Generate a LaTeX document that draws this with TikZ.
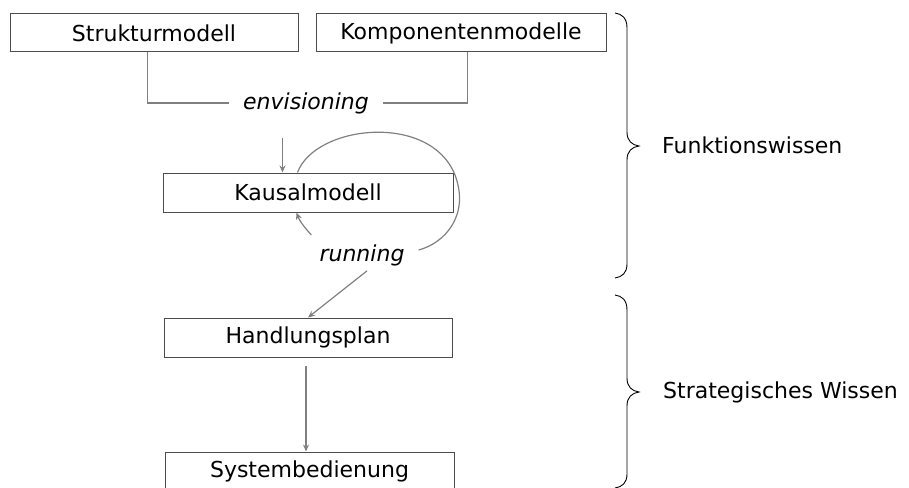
\documentclass[tikz,border=0pt]{standalone}
\usepackage{fontspec}
\setmainfont{DejaVu Sans}
\usetikzlibrary{arrows.meta,calc}
\begin{document}
\begin{tikzpicture}[x=1pt,y=-1pt,
  box/.style={draw=black!70,line width=1pt,minimum width=288pt,minimum height=38pt,
    inner sep=0pt,font=\fontsize{22}{26}\selectfont},
  lbl/.style={font=\fontsize{22}{26}\selectfont\itshape,inner sep=0pt},
  side/.style={font=\fontsize{22}{26}\selectfont,inner sep=0pt,anchor=west},
  conn/.style={draw=black!50,line width=1.2pt},
  arr/.style={conn,-{Stealth[length=7pt,width=6pt]}},
  bracepath/.style={draw=black,line width=0.9pt}]
\useasboundingbox (0,0) rectangle (909,487);

% model boxes
\node[box] (struktur) at (154,33) {Strukturmodell};
\node[box,minimum width=290pt] (komp) at (461,33) {Komponentenmodelle};
\node[box,minimum width=290pt,minimum height=39pt] (kausal) at (308,192.5) {Kausalmodell};
\node[box,minimum height=39pt] (hand) at (308,337.5) {Handlungsplan};
\node[box,minimum width=289pt,minimum height=39pt] (system) at (309.5,471.5) {Systembedienung};

% process labels
\node[lbl] (env) at (306,103) {envisioning};
\node[lbl] (run) at (362,255) {running};

% envisioning: both models feed the causal model
\draw[conn] ($(struktur.south west)+(138,0)$) |- ($(env.west)+(-14,0)$);
\draw[conn] ($(komp.south west)+(152,0)$) |- ($(env.east)+(14,0)$);
\draw[arr] ($(kausal.north west)+(120,-35)$) -- ($(kausal.north west)+(120,0)$);

% running: loop over the causal model
\coordinate (loopA) at ($(kausal.north west)+(135,0)$);
\coordinate (loopB) at ($(run.east)+(14,-5)$);
\draw[conn] (loopA) .. controls (315,125) and (430,112) .. (455,175)
  .. controls (470,215) and (445,243) .. (loopB);
\draw[arr] ($(run.west)+(-8,-20)$) .. controls (306,229) and (300,222) .. ($(kausal.south west)+(134,0)$);
\draw[arr] ($(run.south)+(5,5)$) -- (hand.north);

% action plan to operation
\draw[arr] ($(hand.south)+(-2,8)$) -- (system.north -| {$(hand.south)+(-2,8)$});

% braces
\draw[bracepath] (615,13) .. controls (622,14) and (627,18) .. (627,28) -- (627,132)
  .. controls (627,141) and (632,145) .. (639,146)
  .. controls (632,147) and (627,151) .. (627,160) -- (627,264)
  .. controls (627,273) and (622,277) .. (615,278);
\draw[bracepath] (615,295) .. controls (622,296) and (627,300) .. (627,310) -- (627,378)
  .. controls (627,387) and (632,391) .. (639,392)
  .. controls (632,393) and (627,397) .. (627,406) -- (627,474)
  .. controls (627,483) and (622,487) .. (615,488);

\node[side] (fw) at (662,145) {Funktionswissen};
\node[side] (sw) at (663,392) {Strategisches Wissen};
\end{tikzpicture}
\end{document}
